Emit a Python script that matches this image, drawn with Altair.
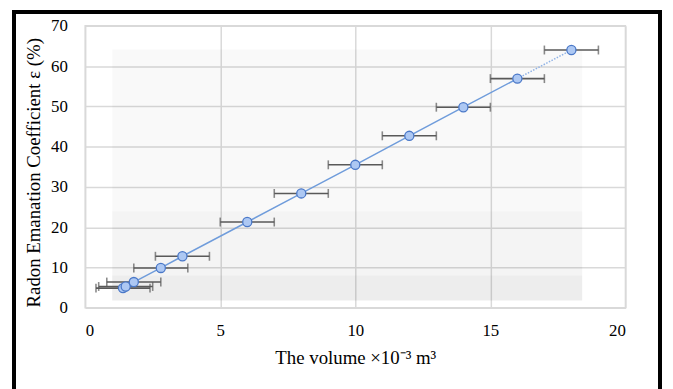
import altair as alt
import pandas as pd

# data
vol = [1.4, 1.5, 1.8, 2.8, 3.6, 6, 8, 10, 12, 14, 16, 18]
eps = [4.9, 5.3, 6.4, 9.9, 12.8, 21.3, 28.4, 35.5, 42.7, 49.8, 56.9, 64.0]
xerr = [1, 1, 1, 1, 1, 1, 1, 1, 1, 1, 1, 1]

# plot-area shading bands (Excel style background)
band_x0 = [1.0, 1.0, 1.0]
band_x1 = [18.4, 18.4, 18.4]
band_y0 = [1.8, 8, 24]
band_y1 = [8, 24, 64.1]
band_op = [0.07, 0.045, 0.022]

x_ticks = [0, 5, 10, 15, 20]
y_ticks = [0, 10, 20, 30, 40, 50, 60, 70]

pts = pd.DataFrame({
    "x": vol, "y": eps,
    "lo": [a - e for a, e in zip(vol, xerr)],
    "hi": [a + e for a, e in zip(vol, xerr)],
})
solid = pts.iloc[:-1]
dotted = pts.iloc[-2:]
bands = pd.DataFrame({"x0": band_x0, "x1": band_x1, "y0": band_y0, "y1": band_y1, "op": band_op})

xs = alt.Scale(domain=[0, 20], nice=False)
ys = alt.Scale(domain=[0, 70], nice=False)

x_axis = alt.Axis(values=x_ticks, labelPadding=28, labelBaseline="alphabetic",
                  titleY=56, titleBaseline="alphabetic")
y_axis = alt.Axis(values=y_ticks, labelPadding=18,
                  titleX=-52, titleY=148, titleBaseline="middle", titleAngle=-90)

bg = alt.Chart(bands).mark_rect(color="black").encode(
    x=alt.X("x0:Q", scale=xs, axis=x_axis, title="The volume ×10⁻³ m³"), x2="x1:Q",
    y=alt.Y("y0:Q", scale=ys, axis=y_axis, title="Radon Emanation Coefficient ε (%)"), y2="y1:Q",
    opacity=alt.Opacity("op:Q", scale=None),
)

line_solid = alt.Chart(solid).mark_line(color="#6f9cdb", strokeWidth=1.5).encode(
    x=alt.X("x:Q", scale=xs), y=alt.Y("y:Q", scale=ys))
line_dot = alt.Chart(dotted).mark_line(color="#8fb2e6", strokeWidth=1.5, strokeDash=[1.5, 1.5]).encode(
    x=alt.X("x:Q", scale=xs), y=alt.Y("y:Q", scale=ys))

err = alt.Chart(pts).mark_rule(color="#595959", strokeWidth=1.6).encode(
    x=alt.X("lo:Q", scale=xs), x2="hi:Q", y=alt.Y("y:Q", scale=ys))
cap_lo = alt.Chart(pts).mark_tick(color="#595959", thickness=1.6, size=9, orient="vertical").encode(
    x=alt.X("lo:Q", scale=xs), y=alt.Y("y:Q", scale=ys))
cap_hi = alt.Chart(pts).mark_tick(color="#595959", thickness=1.6, size=9, orient="vertical").encode(
    x=alt.X("hi:Q", scale=xs), y=alt.Y("y:Q", scale=ys))

dots = alt.Chart(pts).mark_point(shape="circle", filled=True, size=85, fill="#adc8f3",
                                 stroke="#4a78c8", strokeWidth=1.3, opacity=1).encode(
    x=alt.X("x:Q", scale=xs), y=alt.Y("y:Q", scale=ys))

frame = alt.Chart(pts).mark_rect(fill="transparent", stroke="black", strokeWidth=3.7).encode(
    x=alt.value(-72), x2=alt.value(581), y=alt.value(-14), y2=alt.value(420))

chart = alt.layer(bg, line_solid, line_dot, err, cap_lo, cap_hi, dots, frame).properties(
    width=546, height=285,
    autosize=alt.AutoSizeParams(type="none"),
    padding={"left": 78, "top": 16, "right": 40, "bottom": 80},
).configure_view(
    stroke="#d9d9d9", strokeWidth=1.5
).configure_axis(
    domain=False, ticks=False, grid=True, gridColor="#d9d9d9", gridWidth=1.5,
    labelFont="Liberation Serif", labelFontSize=17, labelColor="#000000",
    titleFont="Liberation Serif", titleFontSize=19, titleFontWeight="normal", titleColor="#000000",
)

chart.save("out.html", embed_options={"renderer": "svg", "actions": False})
